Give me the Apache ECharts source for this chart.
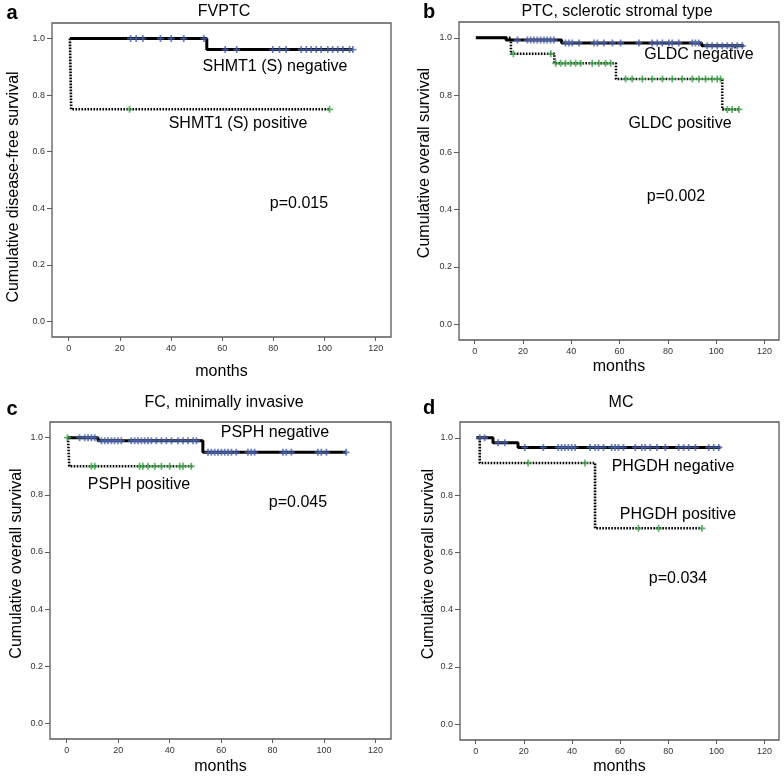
<!DOCTYPE html>
<html>
<head>
<meta charset="utf-8">
<script src="https://cdn.jsdelivr.net/npm/echarts@6/dist/echarts.min.js"></script>
<style>
html,body{margin:0;padding:0;background:#fff;}
#chart{width:784px;height:776px;}
</style>
</head>
<body>
<div id="chart"></div>
<script>
// ---------- data ----------
const xTicks = [0, 20, 40, 60, 80, 100, 120];
const yTicks = [0.0, 0.2, 0.4, 0.6, 0.8, 1.0];

const panelLetters = ['a', 'b', 'c', 'd'];
const panelTitles = ['FVPTC', 'PTC, sclerotic stromal type', 'FC, minimally invasive', 'MC'];
const yAxisNames = ['Cumulative disease-free survival', 'Cumulative overall survival', 'Cumulative overall survival', 'Cumulative overall survival'];
const xAxisName = 'months';
const negLabels = ['SHMT1 (S) negative', 'GLDC negative', 'PSPH negative', 'PHGDH negative'];
const posLabels = ['SHMT1 (S) positive', 'GLDC positive', 'PSPH positive', 'PHGDH positive'];
const pValues = ['p=0.015', 'p=0.002', 'p=0.045', 'p=0.034'];

// panel a
const aNegTimes = [0.5, 54, 111.1];
const aNegSurv  = [1.0, 0.961, 0.961];
const aPosTimes = [0.5, 1, 102];
const aPosSurv  = [1.0, 0.75, 0.75];
const aNegCensor = [24.2, 26.4, 29.0, 35.9, 40.1, 45.0, 52.9, 61.2, 65.7, 79.8, 82.4, 85.0, 90.9, 92.9, 94.8, 96.8, 98.7, 101.3, 103.2, 105.2, 107.2, 109.8, 111.1];
const aPosCensor = [23.8, 102];

// panel b
const bNegTimes = [0.5, 13, 36, 94, 111.4];
const bNegSurv  = [1.0, 0.992, 0.982, 0.972, 0.972];
const bPosTimes = [0.5, 15, 33, 58.5, 102.5, 109.5];
const bPosSurv  = [1.0, 0.944, 0.911, 0.856, 0.75, 0.75];
const bNegCensor = [17.7, 21.8, 23.2, 24.5, 25.9, 27.3, 28.7, 30.0, 31.4, 32.8, 37.6, 39.0, 40.4, 43.2, 49.4, 50.8, 53.5, 57.0, 60.4, 68.0, 73.5, 75.6, 77.7, 80.4, 81.8, 84.5, 90.1, 91.4, 92.8, 96.3, 98.3, 100.4, 102.5, 104.6, 106.6, 108.7, 110.8];
const bPosCensor = [16, 31.5, 33.5, 35.6, 37.6, 39.7, 41.8, 43.9, 48.7, 51.4, 54.2, 56.3, 62.5, 65.2, 69.4, 73.5, 77.7, 81.8, 85.9, 90.1, 92.8, 95.6, 98.3, 100.4, 101.8, 104.6, 106.6, 109.4];

// panel c
const cNegTimes = [0.5, 12.2, 52.9, 108.6];
const cNegSurv  = [1.0, 0.989, 0.949, 0.949];
const cPosTimes = [0.5, 1, 49];
const cPosSurv  = [1.0, 0.9, 0.9];
const cNegCensor = [5.0, 7.0, 8.3, 9.6, 10.9, 13.5, 14.8, 16.0, 17.4, 18.6, 19.9, 21.2, 25.1, 26.4, 27.7, 29.0, 30.3, 31.6, 32.9, 34.8, 36.8, 38.7, 40.7, 43.2, 45.2, 47.1, 49.1, 50.4, 54.9, 56.2, 57.5, 58.8, 60.1, 61.4, 62.7, 64.0, 65.9, 70.4, 71.7, 73.0, 84.0, 85.3, 87.3, 97.6, 98.9, 100.9, 108.6];
const cPosCensor = [0.3, 9.6, 10.9, 28.3, 29.6, 31.6, 34.2, 36.8, 40.0, 43.9, 45.2, 48.4];

// panel d
const dNegTimes = [0.3, 7.2, 17.6, 101.7];
const dNegSurv  = [1.0, 0.983, 0.966, 0.966];
const dPosTimes = [0.5, 1.7, 49.6, 94];
const dPosSurv  = [1.0, 0.912, 0.684, 0.684];
const dNegCensor = [1.7, 3.75, 9.3, 12.1, 20.4, 28.1, 34.3, 35.7, 37.1, 38.5, 39.9, 41.3, 47.5, 49.6, 51.0, 53.1, 56.5, 57.9, 59.3, 61.4, 66.3, 69.0, 70.4, 72.5, 75.3, 78.8, 84.3, 86.4, 88.5, 91.3, 96.8, 98.9, 101.0];
const dPosCensor = [21.8, 45.4, 67.6, 76.0, 94.0];

// ---------- layout / style ----------
const FONT = '"Liberation Sans", Arial, sans-serif';
const panels = [
  { negT: aNegTimes, negS: aNegSurv, posT: aPosTimes, posS: aPosSurv, negC: aNegCensor, posC: aPosCensor,
    grid: {left: 52, top: 23, width: 339, height: 314}, yGap: 30, xGap: 27, yPad: [0, 14, 0, 0],
    letter: [12, 13], title: [224, 12], neg: [275, 67], pos: [238, 124], p: [299, 204] },
  { negT: bNegTimes, negS: bNegSurv, posT: bPosTimes, posS: bPosSurv, negC: bNegCensor, posC: bPosCensor,
    grid: {left: 459, top: 22, width: 320, height: 318}, yGap: 26, xGap: 19, yPad: [0, 0, 0, 36],
    letter: [429, 12], title: [617, 12], neg: [699, 55], pos: [680, 124], p: [676, 197] },
  { negT: cNegTimes, negS: cNegSurv, posT: cPosTimes, posS: cPosSurv, negC: cNegCensor, posC: cPosCensor,
    grid: {left: 50, top: 422, width: 341, height: 318}, yGap: 25, xGap: 20, yPad: [0, 0, 0, 34],
    letter: [12, 409], title: [224, 403], neg: [275, 433], pos: [139, 485], p: [298, 503] },
  { negT: dNegTimes, negS: dNegSurv, posT: dPosTimes, posS: dPosSurv, negC: dNegCensor, posC: dPosCensor,
    grid: {left: 460, top: 422, width: 319, height: 318}, yGap: 22, xGap: 19, yPad: [0, 0, 0, 34],
    letter: [429, 408], title: [621, 403], neg: [673, 467], pos: [678, 515], p: [678, 579] }
];

function survAt(times, surv, t) {
  let s = 1.0;
  for (let i = 0; i < times.length; i++) { if (times[i] <= t) s = surv[i]; }
  return s;
}
const PLUS = 'path://M3,0H5V3H8V5H5V8H3V5H0V3H3Z';

const grids = [], xAxes = [], yAxes = [], series = [], graphics = [];
panels.forEach((p, i) => {
  grids.push(Object.assign({show: true, borderColor: '#5a5a5a', borderWidth: 1.3, backgroundColor: 'transparent'}, p.grid));
  xAxes.push({
    type: 'value', gridIndex: i, min: -6.5, max: 126, position: 'bottom',
    name: xAxisName, nameLocation: 'middle', nameGap: p.xGap,
    nameTextStyle: {fontFamily: FONT, fontSize: 16, color: '#000'},
    axisLine: {show: false, onZero: false},
    axisTick: {show: true, inside: false, length: 4, customValues: xTicks, lineStyle: {color: '#5a5a5a', width: 1}},
    axisLabel: {customValues: xTicks, margin: 7, fontFamily: FONT, fontSize: 9, color: '#333'},
    splitLine: {show: false}
  });
  yAxes.push({
    type: 'value', gridIndex: i, min: -0.055, max: 1.055, position: 'left',
    name: yAxisNames[i], nameLocation: 'middle', nameGap: p.yGap,
    nameTextStyle: {fontFamily: FONT, fontSize: 16, color: '#000', padding: p.yPad},
    axisLine: {show: false, onZero: false},
    axisTick: {show: true, inside: false, length: 5, customValues: yTicks, lineStyle: {color: '#5a5a5a', width: 1}},
    axisLabel: {customValues: yTicks, margin: 7, fontFamily: FONT, fontSize: 9, color: '#333',
      formatter: v => v.toFixed(1)},
    splitLine: {show: false}
  });
  series.push({
    type: 'line', xAxisIndex: i, yAxisIndex: i, step: 'end', showSymbol: false, symbol: 'none',
    data: p.negT.map((t, k) => [t, p.negS[k]]),
    lineStyle: {color: '#000', width: 3, type: 'solid'}, z: 3, animation: false
  });
  series.push({
    type: 'line', xAxisIndex: i, yAxisIndex: i, step: 'end', showSymbol: false, symbol: 'none',
    data: p.posT.map((t, k) => [t, p.posS[k]]),
    lineStyle: {color: '#000', width: 2.6, type: [1.6, 1.4]}, z: 3, animation: false
  });
  series.push({
    type: 'scatter', xAxisIndex: i, yAxisIndex: i, symbol: PLUS, symbolSize: [7, 7],
    data: p.negC.map(t => [t, survAt(p.negT, p.negS, t)]),
    itemStyle: {color: '#4a63b0'}, z: 4, animation: false
  });
  series.push({
    type: 'scatter', xAxisIndex: i, yAxisIndex: i, symbol: PLUS, symbolSize: [7, 7],
    data: p.posC.map(t => [t, survAt(p.posT, p.posS, t)]),
    itemStyle: {color: '#3fa34a'}, z: 4, animation: false
  });
  const txt = (pos, text, font) => ({
    type: 'text', x: pos[0], y: pos[1], silent: true,
    style: {text: text, font: font, fill: '#000', align: 'center', verticalAlign: 'middle',
            textAlign: 'center', textVerticalAlign: 'middle'}
  });
  graphics.push(txt(p.letter, panelLetters[i], 'bold 20px ' + FONT));
  graphics.push(txt(p.title, panelTitles[i], '16px ' + FONT));
  graphics.push(txt(p.neg, negLabels[i], '16px ' + FONT));
  graphics.push(txt(p.pos, posLabels[i], '16px ' + FONT));
  graphics.push(txt(p.p, pValues[i], '16px ' + FONT));
});

const chart = echarts.init(document.getElementById('chart'), null, {renderer: 'canvas'});
chart.setOption({
  animation: false,
  backgroundColor: '#fff',
  grid: grids, xAxis: xAxes, yAxis: yAxes, series: series,
  graphic: graphics
});
</script>
</body>
</html>
